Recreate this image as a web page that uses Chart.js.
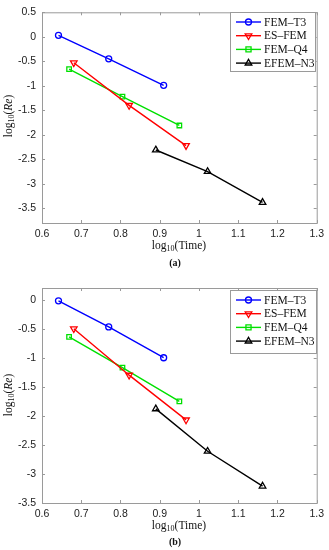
<!DOCTYPE html>
<html>
<head>
<meta charset="utf-8">
<script src="https://cdn.jsdelivr.net/npm/chart.js@4.4.1/dist/chart.umd.min.js"></script>
<style>
  body { margin: 0; background: #fff; }
  #wrap { position: relative; width: 329px; height: 550px; overflow: hidden; }
  .panel { position: absolute; left: 0; width: 329px; }
  .xt, .yt, .cap { position: absolute; font-family: "Liberation Serif", serif; color: #111; white-space: nowrap; }
  .xt { font-size: 11.5px; transform: translate(-50%, -50%); }
  .yt { font-size: 11.5px; transform: translate(-50%, -50%) rotate(-90deg); }
  .cap { font-size: 10px; font-weight: bold; transform: translate(-50%, -50%); }
  sub { font-size: 0.7em; vertical-align: -0.25em; line-height: 0; }
</style>
</head>
<body>
<div id="wrap">
  <div class="panel" style="top:0;height:270px"><canvas id="chartA" width="329" height="270"></canvas></div>
  <div class="panel" style="top:270px;height:280px"><canvas id="chartB" width="329" height="280"></canvas></div>
  <div class="xt" style="left:179px;top:245px">log<sub>10</sub>(Time)</div>
  <div class="yt" style="left:8px;top:116px">log<sub>10</sub>(<i>Re</i>)</div>
  <div class="cap" style="left:175px;top:262px">(a)</div>
  <div class="xt" style="left:179px;top:525px">log<sub>10</sub>(Time)</div>
  <div class="yt" style="left:8px;top:395px">log<sub>10</sub>(<i>Re</i>)</div>
  <div class="cap" style="left:175px;top:541px">(b)</div>
</div>
<script>
// series names
const seriesNames = ['FEM\u2013T3', 'ES\u2013FEM', 'FEM\u2013Q4', 'EFEM\u2013N3'];

// log10(Time) values, same for both panels
const timeT3 = [0.642, 0.770, 0.910];
const timeES = [0.681, 0.822, 0.967];
const timeQ4 = [0.669, 0.805, 0.950];
const timeN3 = [0.890, 1.022, 1.162];

// panel (a) log10(Re)
const reA_T3 = [0.03, -0.45, -0.99];
const reA_ES = [-0.53, -1.40, -2.22];
const reA_Q4 = [-0.66, -1.22, -1.81];
const reA_N3 = [-2.31, -2.75, -3.38];

// panel (b) log10(Re)
const reB_T3 = [-0.02, -0.47, -1.00];
const reB_ES = [-0.50, -1.30, -2.07];
const reB_Q4 = [-0.64, -1.17, -1.75];
const reB_N3 = [-1.88, -2.61, -3.21];

// ticks
const xTicks = [0.6, 0.7, 0.8, 0.9, 1.0, 1.1, 1.2, 1.3];
const yTicksA = [0.5, 0, -0.5, -1, -1.5, -2, -2.5, -3, -3.5];
const yTicksB = [0, -0.5, -1, -1.5, -2, -2.5, -3, -3.5];

const colors = ['#0000ff', '#ff0000', '#00e000', '#000000'];
const markers = [
    { style: 'circle', rotation: 0, radius: 3 },
    { style: 'triangle', rotation: 180, radius: 3.8 },
    { style: 'rect', rotation: 0, radius: 3.2 },
    { style: 'triangle', rotation: 0, radius: 3.8 }
];

function zip(xs, ys) {
    return xs.map((x, i) => ({ x: x, y: ys[i] }));
}

function makeDatasets(ys) {
    const xs = [timeT3, timeES, timeQ4, timeN3];
    return ys.map((y, i) => ({
        label: seriesNames[i],
        data: zip(xs[i], y),
        showLine: true,
        borderColor: colors[i],
        borderWidth: 1.4,
        pointStyle: markers[i].style,
        rotation: markers[i].rotation,
        pointRadius: markers[i].radius,
        pointBorderWidth: 1.3,
        pointBorderColor: colors[i],
        pointBackgroundColor: 'rgba(0,0,0,0)',
        fill: false
    }));
}

function drawMarker(ctx, m, color, cx, cy) {
    ctx.save();
    ctx.strokeStyle = color;
    ctx.lineWidth = 1.3;
    ctx.beginPath();
    const r = m.radius;
    if (m.style === 'circle') {
        ctx.arc(cx, cy, r, 0, Math.PI * 2);
    } else if (m.style === 'rect') {
        ctx.rect(cx - r * 0.8, cy - r * 0.8, r * 1.6, r * 1.6);
    } else {
        const s = m.rotation === 180 ? -1 : 1;
        ctx.moveTo(cx, cy - s * r);
        ctx.lineTo(cx - r * 0.87, cy + s * r * 0.5);
        ctx.lineTo(cx + r * 0.87, cy + s * r * 0.5);
        ctx.closePath();
    }
    ctx.stroke();
    ctx.restore();
}

// box around the plot with inward ticks, plus the legend inside
const frame = {
    id: 'frame',
    afterDatasetsDraw(chart, args, opts) {
        const { ctx, chartArea: a } = chart;
        const xs = chart.scales.x, ys = chart.scales.y;
        ctx.save();
        ctx.strokeStyle = '#9a9a9a';
        ctx.lineWidth = 1;
        ctx.strokeRect(a.left + 0.5, a.top + 0.5, a.right - a.left, a.bottom - a.top);
        ctx.beginPath();
        xs.ticks.forEach(t => {
            const px = Math.round(xs.getPixelForValue(t.value)) + 0.5;
            ctx.moveTo(px, a.bottom); ctx.lineTo(px, a.bottom - 3);
            ctx.moveTo(px, a.top); ctx.lineTo(px, a.top + 3);
        });
        ys.ticks.forEach(t => {
            const py = Math.round(ys.getPixelForValue(t.value)) + 0.5;
            ctx.moveTo(a.left, py); ctx.lineTo(a.left + 3, py);
            ctx.moveTo(a.right, py); ctx.lineTo(a.right - 3, py);
        });
        ctx.stroke();

        // legend
        const L = opts.box;
        ctx.fillStyle = '#fff';
        ctx.fillRect(L.x, L.y, L.w, L.h);
        ctx.strokeStyle = '#9a9a9a';
        ctx.strokeRect(L.x + 0.5, L.y + 0.5, L.w, L.h);
        ctx.font = '11.5px "Liberation Serif", serif';
        ctx.textBaseline = 'middle';
        chart.data.datasets.forEach((ds, i) => {
            const cy = L.y + 10 + i * 13.7;
            ctx.strokeStyle = ds.borderColor;
            ctx.lineWidth = 1.4;
            ctx.beginPath();
            ctx.moveTo(L.x + 6, cy); ctx.lineTo(L.x + 31, cy);
            ctx.stroke();
            drawMarker(ctx, markers[i], ds.borderColor, L.x + 18.5, cy);
            ctx.fillStyle = '#111';
            ctx.fillText(ds.label, L.x + 34, cy + 0.5);
        });
        ctx.restore();
    }
};

function makeChart(id, ys, yMin, yMax, yTicks, padTop, legendBox) {
    const ctx = document.getElementById(id).getContext('2d');
    return new Chart(ctx, {
        type: 'scatter',
        data: { datasets: makeDatasets(ys) },
        options: {
            responsive: false,
            animation: false,
            devicePixelRatio: 1,
            layout: { padding: { left: 0, right: 12, top: padTop, bottom: 0 } },
            plugins: {
                legend: { display: false },
                tooltip: { enabled: false },
                frame: { box: legendBox }
            },
            scales: {
                x: {
                    type: 'linear',
                    min: 0.6,
                    max: 1.3,
                    afterBuildTicks: s => { s.ticks = xTicks.map(v => ({ value: v })); },
                    afterFit: s => { s.height = 47; },
                    grid: { display: false, drawTicks: false, tickLength: 0 },
                    border: { display: false },
                    ticks: {
                        padding: 5,
                        color: '#222',
                        font: { family: '"Liberation Sans", Arial, sans-serif', size: 10.5 },
                        callback: v => String(Math.round(v * 10) / 10),
                        maxRotation: 0,
                        autoSkip: false
                    }
                },
                y: {
                    type: 'linear',
                    min: yMin,
                    max: yMax,
                    afterBuildTicks: s => { s.ticks = yTicks.map(v => ({ value: v })); },
                    afterFit: s => { s.width = 42; },
                    grid: { display: false, drawTicks: false, tickLength: 0 },
                    border: { display: false },
                    ticks: {
                        padding: 6,
                        color: '#222',
                        font: { family: '"Liberation Sans", Arial, sans-serif', size: 10.5 },
                        callback: v => String(v),
                        autoSkip: false
                    }
                }
            }
        },
        plugins: [frame]
    });
}

makeChart('chartA', [reA_T3, reA_ES, reA_Q4, reA_N3], -3.8, 0.5, yTicksA, 8,
    { x: 230, y: 12, w: 85, h: 59 });
makeChart('chartB', [reB_T3, reB_ES, reB_Q4, reB_N3], -3.5, 0.2, yTicksB, 18,
    { x: 230, y: 20, w: 86, h: 63 });
</script>
</body>
</html>
